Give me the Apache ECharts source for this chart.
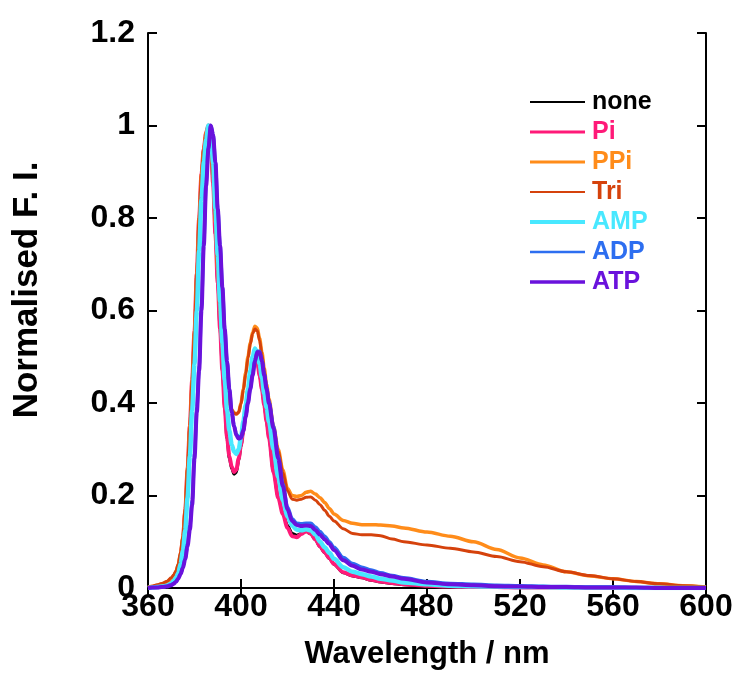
<!DOCTYPE html>
<html>
<head>
<meta charset="utf-8">
<script src="https://cdn.jsdelivr.net/npm/echarts@6/dist/echarts.min.js"></script>
<style>
html,body{margin:0;padding:0;background:#fff;}
#chart{width:737px;height:675px;}
</style>
</head>
<body>
<div id="chart"></div>
<script>
// Wavelength grid (nm)
const wavelengths = [360,362,364,366,368,370,
 371,372,373,374,375,376,377,378,379,380,381,382,383,384,385,386,387,388,389,390,391,392,393,394,395,396,397,398,399,400,401,402,403,404,405,406,407,408,409,410,411,412,
 414,416,418,420,422,424,426,428,430,432,434,436,438,440,
 444,448,452,456,460,465,470,
 480,490,500,510,520,530,540,550,560,570,580,590,600];

const seriesNames = ['none','Pi','PPi','Tri','AMP','ADP','ATP'];
const xTicks = [360,400,440,480,520,560,600];
const yTicks = [0,0.2,0.4,0.6,0.8,1,1.2];

const none = [0,0.001,0.002,0.004,0.006,0.012,
 0.018,0.028,0.042,0.068,0.105,0.165,0.255,0.35,0.45,0.555,0.68,0.8,0.895,0.95,0.985,1.0,0.965,0.875,0.765,0.66,0.56,0.47,0.39,0.322,0.28,0.258,0.246,0.25,0.275,0.305,0.338,0.373,0.41,0.455,0.495,0.508,0.49,0.46,0.43,0.395,0.36,0.325,
 0.25,0.197,0.163,0.135,0.118,0.114,0.118,0.122,0.117,0.104,0.089,0.076,0.064,0.051,
 0.033,0.026,0.022,0.017,0.013,0.01,0.007,
 0.004,0.003,0.002,0.001,0.001,0.001,0.001,0,0,0,0,0,0];

const Pi = [0,0.001,0.002,0.004,0.006,0.012,
 0.018,0.028,0.042,0.068,0.105,0.165,0.255,0.35,0.45,0.555,0.68,0.8,0.895,0.95,0.985,1.0,0.965,0.875,0.765,0.66,0.56,0.47,0.39,0.325,0.285,0.262,0.251,0.256,0.28,0.31,0.34,0.375,0.41,0.455,0.495,0.508,0.49,0.46,0.43,0.395,0.36,0.325,
 0.25,0.195,0.16,0.13,0.112,0.11,0.117,0.123,0.118,0.105,0.09,0.077,0.065,0.052,
 0.034,0.027,0.023,0.018,0.014,0.011,0.008,
 0.005,0.003,0.002,0.002,0.001,0.001,0.001,0.001,0,0,0,0,0];

const PPi = [0.002,0.004,0.006,0.009,0.013,0.02,
 0.026,0.035,0.05,0.075,0.11,0.17,0.26,0.35,0.45,0.555,0.68,0.8,0.895,0.95,0.985,1.0,0.97,0.89,0.79,0.69,0.6,0.52,0.46,0.42,0.398,0.386,0.379,0.376,0.38,0.4,0.43,0.465,0.5,0.53,0.553,0.566,0.562,0.54,0.51,0.475,0.44,0.41,
 0.35,0.3,0.255,0.215,0.2,0.198,0.2,0.207,0.209,0.203,0.195,0.185,0.172,0.16,
 0.146,0.14,0.137,0.137,0.136,0.134,0.13,
 0.121,0.112,0.1,0.083,0.065,0.05,0.035,0.026,0.02,0.014,0.009,0.005,0.002];

const Tri = [0.002,0.004,0.007,0.01,0.014,0.022,
 0.028,0.037,0.052,0.078,0.112,0.172,0.26,0.35,0.45,0.555,0.68,0.8,0.895,0.95,0.985,1.0,0.97,0.89,0.79,0.69,0.6,0.52,0.46,0.42,0.397,0.385,0.378,0.376,0.38,0.398,0.428,0.462,0.497,0.527,0.55,0.56,0.556,0.535,0.505,0.47,0.435,0.405,
 0.345,0.295,0.25,0.21,0.192,0.19,0.192,0.196,0.197,0.19,0.18,0.168,0.155,0.145,
 0.128,0.118,0.115,0.115,0.113,0.106,0.1,
 0.093,0.086,0.078,0.068,0.057,0.046,0.035,0.027,0.02,0.014,0.009,0.005,0.002];

const AMP = [0,0.001,0.002,0.003,0.005,0.01,
 0.015,0.022,0.032,0.052,0.08,0.125,0.195,0.285,0.385,0.485,0.6,0.73,0.84,0.92,0.97,1.0,0.985,0.92,0.82,0.72,0.62,0.53,0.45,0.385,0.34,0.31,0.295,0.29,0.3,0.325,0.36,0.395,0.43,0.47,0.5,0.518,0.508,0.485,0.455,0.42,0.39,0.36,
 0.3,0.24,0.19,0.155,0.135,0.126,0.125,0.127,0.125,0.115,0.1,0.088,0.076,0.063,
 0.045,0.035,0.03,0.025,0.02,0.016,0.012,
 0.008,0.005,0.004,0.003,0.002,0.002,0.001,0.001,0.001,0,0,0,0];

const ADP = [0,0.001,0.001,0.002,0.004,0.007,
 0.01,0.014,0.021,0.031,0.045,0.065,0.095,0.135,0.19,0.29,0.39,0.48,0.61,0.75,0.875,0.955,1.0,0.98,0.92,0.82,0.74,0.65,0.56,0.49,0.43,0.382,0.352,0.333,0.326,0.328,0.343,0.372,0.402,0.432,0.462,0.492,0.512,0.512,0.493,0.463,0.433,0.403,
 0.35,0.285,0.225,0.175,0.15,0.14,0.139,0.14,0.14,0.132,0.122,0.112,0.1,0.088,
 0.066,0.053,0.045,0.039,0.033,0.027,0.022,
 0.014,0.01,0.008,0.006,0.005,0.004,0.003,0.002,0.002,0.001,0.001,0,0];

const ATP = [0,0.001,0.001,0.002,0.003,0.006,
 0.009,0.013,0.02,0.03,0.043,0.062,0.09,0.125,0.18,0.28,0.38,0.47,0.6,0.74,0.87,0.95,1.0,0.98,0.92,0.82,0.74,0.65,0.56,0.49,0.43,0.38,0.35,0.33,0.323,0.325,0.34,0.37,0.4,0.43,0.46,0.49,0.51,0.51,0.49,0.46,0.43,0.4,
 0.345,0.28,0.22,0.17,0.145,0.136,0.134,0.135,0.134,0.125,0.115,0.105,0.095,0.082,
 0.06,0.048,0.04,0.035,0.03,0.025,0.02,
 0.012,0.008,0.006,0.004,0.003,0.002,0.002,0.001,0.001,0.001,0,0,0];

const valuesByName = {none, Pi, PPi, Tri, AMP, ADP, ATP};
const colors = {none:'#000000', Pi:'#FF1A78', PPi:'#FF8C1A', Tri:'#D5420C', AMP:'#48E8FF', ADP:'#2D6EF0', ATP:'#6A12DC'};
const widths = {none:3, Pi:4, PPi:3.5, Tri:3, AMP:4.5, ADP:3.5, ATP:4};
const legendThick = {none:2, Pi:3, PPi:3, Tri:2, AMP:4, ADP:2.5, ATP:3.5};

const boldFont = '"Liberation Sans", Arial, sans-serif';

const chart = echarts.init(document.getElementById('chart'), null, {renderer:'canvas'});

const series = seriesNames.map(n => ({
  name: n,
  type: 'line',
  xAxisIndex: 0, yAxisIndex: 0,
  data: wavelengths.map((w,i) => [w, valuesByName[n][i]]),
  showSymbol: false,
  symbol: 'none',
  smooth: 0.3,
  smoothMonotone: 'x',
  lineStyle: {color: colors[n], width: widths[n]},
  itemStyle: {color: colors[n]},
  animation: false
}));

const tickStyle = {show:true, inside:true, length:9, lineStyle:{color:'#000', width:2}};
const lineStyle = {show:true, lineStyle:{color:'#000', width:2}};

chart.setOption({
  backgroundColor: '#fff',
  animation: false,
  grid: {left:148, top:33, width:558, height:557, show:false},
  legend: {
    orient: 'vertical',
    left: 530, top: 87,
    padding: 0,
    itemGap: 0,
    itemWidth: 55,
    itemHeight: 14,
    data: seriesNames.map(n => ({
      name:n,
      icon:'path://M0,0 L55,0 L55,' + legendThick[n] + ' L0,' + legendThick[n] + ' Z',
      textStyle:{color:colors[n]}
    })),
    textStyle: {fontFamily: boldFont, fontWeight:'bold', fontSize:25, lineHeight:30, padding:[0,0,0,2]}
  },
  xAxis: [{
    type:'value', min:360, max:600, interval:40, position:'bottom',
    axisLine: lineStyle, axisTick: tickStyle, splitLine:{show:false},
    axisLabel: {color:'#000', fontFamily:boldFont, fontWeight:'bold', fontSize:32, margin:3},
    name:'Wavelength / nm', nameLocation:'middle', nameGap:51,
    nameTextStyle:{color:'#000', fontFamily:boldFont, fontWeight:'bold', fontSize:31}
  },{
    type:'value', min:360, max:600, interval:40, position:'top',
    axisLine: lineStyle, axisTick: tickStyle, splitLine:{show:false},
    axisLabel:{show:false}
  }],
  yAxis: [{
    type:'value', min:0, max:1.2, interval:0.2, position:'left',
    axisLine: lineStyle, axisTick: tickStyle, splitLine:{show:false},
    axisLabel: {color:'#000', fontFamily:boldFont, fontWeight:'bold', fontSize:32, margin:13}
  },{
    type:'value', min:0, max:1.2, interval:0.2, position:'right',
    axisLine: lineStyle, axisTick: tickStyle, splitLine:{show:false},
    axisLabel:{show:false}
  }],
  graphic: [{
    type:'text',
    x: 27, y: 290,
    rotation: Math.PI/2,
    style: {text:'Normalised F. I.', fill:'#000', font:'bold 35px "Liberation Sans", Arial, sans-serif', align:'center', verticalAlign:'middle'}
  }],
  series: series
});
</script>
</body>
</html>
